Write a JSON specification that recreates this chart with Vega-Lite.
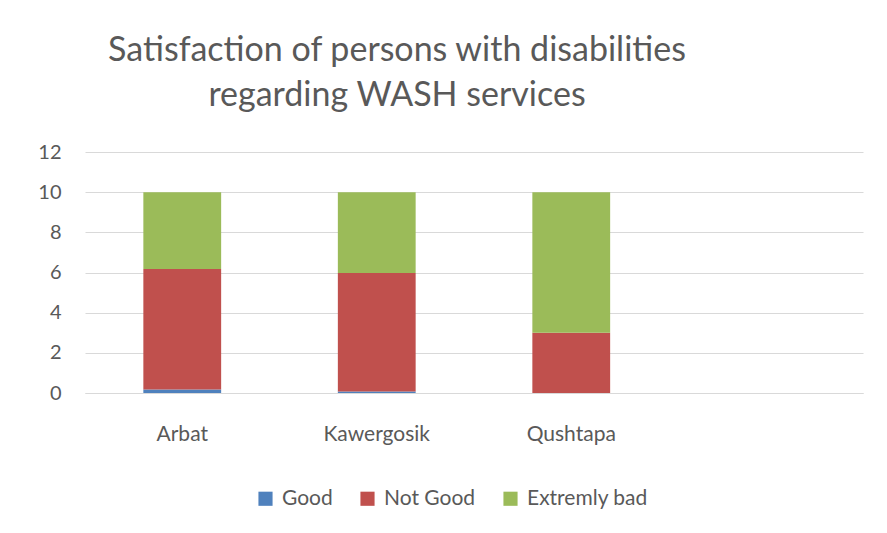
{
  "$schema": "https://vega.github.io/schema/vega-lite/v6.json",
  "autosize": "none",
  "width": 778,
  "height": 241,
  "padding": {"left": 85, "top": 152, "right": 24, "bottom": 140},
  "background": "white",
  "title": {
    "text": ["Satisfaction of persons with disabilities", "regarding WASH services"],
    "anchor": "middle",
    "frame": "group",
    "dx": -77,
    "offset": 29,
    "font": "Lato",
    "fontSize": 34,
    "fontWeight": "normal",
    "color": "#595959",
    "lineHeight": 45
  },
  "data": {
    "values": [
      {"site": "Arbat", "rating": "Good", "value": 0.17},
      {"site": "Arbat", "rating": "Not Good", "value": 6.0},
      {"site": "Arbat", "rating": "Extremly bad", "value": 3.83},
      {"site": "Kawergosik", "rating": "Good", "value": 0.07},
      {"site": "Kawergosik", "rating": "Not Good", "value": 5.9},
      {"site": "Kawergosik", "rating": "Extremly bad", "value": 4.03},
      {"site": "Qushtapa", "rating": "Good", "value": 0},
      {"site": "Qushtapa", "rating": "Not Good", "value": 3.0},
      {"site": "Qushtapa", "rating": "Extremly bad", "value": 7.0}
    ]
  },
  "transform": [
    {"calculate": "indexof(['Good','Not Good','Extremly bad'], datum.rating)", "as": "stackOrder"}
  ],
  "mark": {"type": "bar"},
  "encoding": {
    "x": {
      "field": "site",
      "type": "nominal",
      "scale": {"domain": ["Arbat", "Kawergosik", "Qushtapa", " "], "paddingInner": 0.6, "paddingOuter": 0.3},
      "axis": {
        "title": null,
        "labelAngle": 0,
        "labelFont": "Lato",
        "labelFontSize": 21,
        "labelColor": "#595959",
        "labelPadding": 30,
        "ticks": false,
        "domainColor": "#d9d9d9",
        "domainWidth": 1
      }
    },
    "y": {
      "field": "value",
      "type": "quantitative",
      "stack": "zero",
      "scale": {"domain": [0, 12], "nice": false},
      "axis": {
        "title": null,
        "values": [0, 2, 4, 6, 8, 10, 12],
        "labelFont": "Lato",
        "labelFontSize": 20,
        "labelColor": "#595959",
        "labelPadding": 24,
        "ticks": false,
        "domain": false,
        "gridColor": "#d9d9d9",
        "gridWidth": 1
      }
    },
    "order": {"field": "stackOrder", "type": "quantitative", "sort": "ascending"},
    "color": {
      "field": "rating",
      "type": "nominal",
      "sort": ["Good", "Not Good", "Extremly bad"],
      "scale": {"domain": ["Good", "Not Good", "Extremly bad"], "range": ["#4f81bd", "#c0504d", "#9bbb59"]},
      "legend": {
        "title": null,
        "orient": "none",
        "direction": "horizontal",
        "legendX": 170,
        "legendY": 336,
        "symbolType": "square",
        "symbolSize": 200,
        "symbolStrokeWidth": 0,
        "labelFont": "Lato",
        "labelFontSize": 21,
        "labelColor": "#595959",
        "columnPadding": 24,
        "labelOffset": 6
      }
    }
  },
  "config": {"view": {"stroke": null}}
}
